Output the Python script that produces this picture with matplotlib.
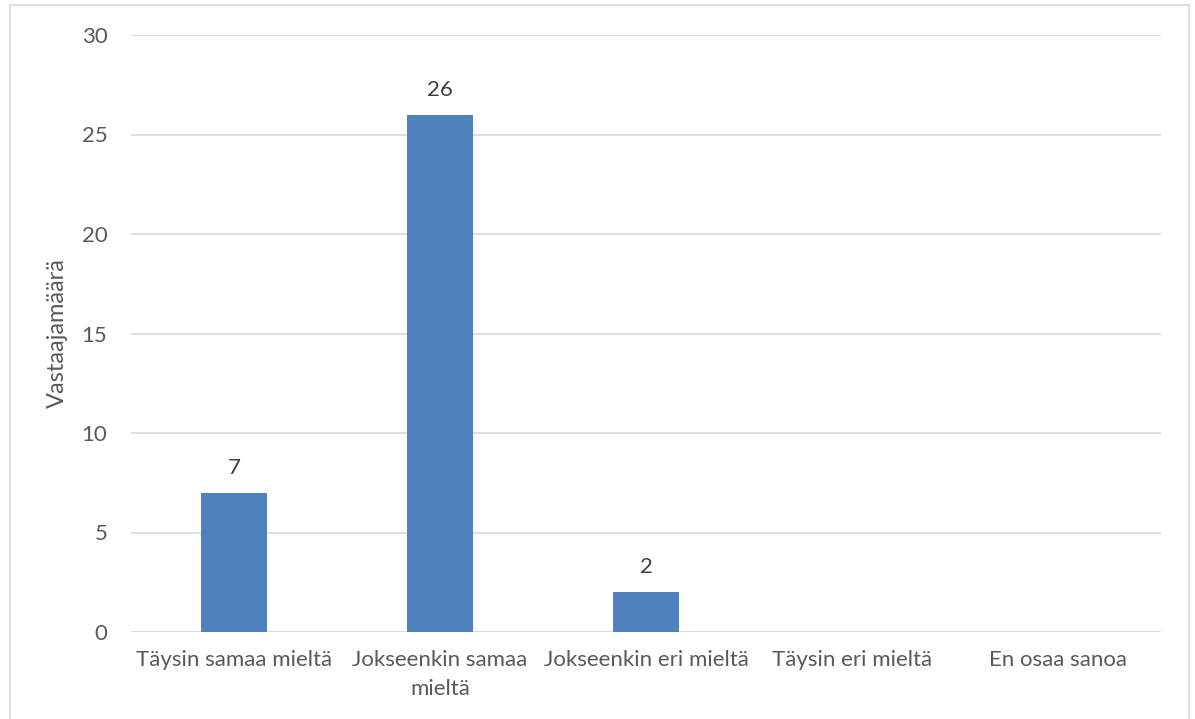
import numpy as np
import matplotlib.pyplot as plt
from matplotlib.patches import Rectangle

# Data
categories = ["Täysin samaa mieltä", "Jokseenkin samaa\nmieltä", "Jokseenkin eri mieltä",
              "Täysin eri mieltä", "En osaa sanoa"]
values = [7, 26, 2, 0, 0]
y_ticks = [0, 5, 10, 15, 20, 25, 30]

plt.rcParams['font.family'] = ['Lato', 'DejaVu Sans']
txt = '#595959'
grid_c = '#D9D9D9'
fs = 16

fig = plt.figure(figsize=(11.95, 7.19), dpi=100)
ax = fig.add_axes([131/1195, 1 - 632/719, 1030/1195, 597/719])

# outer chart frame
fig.patches.append(Rectangle((10/1195, -0.01), 1179/1195, 1.01 - 5/719, transform=fig.transFigure,
                             fill=False, edgecolor=grid_c, linewidth=1.2))

x = np.arange(len(categories))
bars = ax.bar(x, values, width=0.316, color='#4F81BD', zorder=3)
for b, v in zip(bars, values):
    if v > 0:
        ax.text(b.get_x() + b.get_width()/2, v + 0.75, str(v), ha='center', va='bottom',
                fontsize=fs, color='#404040')

ax.set_xlim(-0.5, len(categories) - 0.5)
ax.set_ylim(0, 30)
ax.set_yticks(y_ticks)
ax.set_xticks(x)
ax.set_xticklabels(categories, fontsize=fs, color=txt, linespacing=1.55)
ax.tick_params(axis='y', labelsize=fs, labelcolor=txt, length=0, pad=17)
ax.tick_params(axis='x', length=0, pad=13)
ax.yaxis.grid(True, color=grid_c, linewidth=1.2, zorder=0)
for s in ax.spines.values():
    s.set_visible(False)
ax.axhline(0, color=grid_c, linewidth=1.2, zorder=1)

ax.set_ylabel("Vastaajamäärä", fontsize=17, color=txt, labelpad=10)

fig.savefig("out.png", dpi=100)
